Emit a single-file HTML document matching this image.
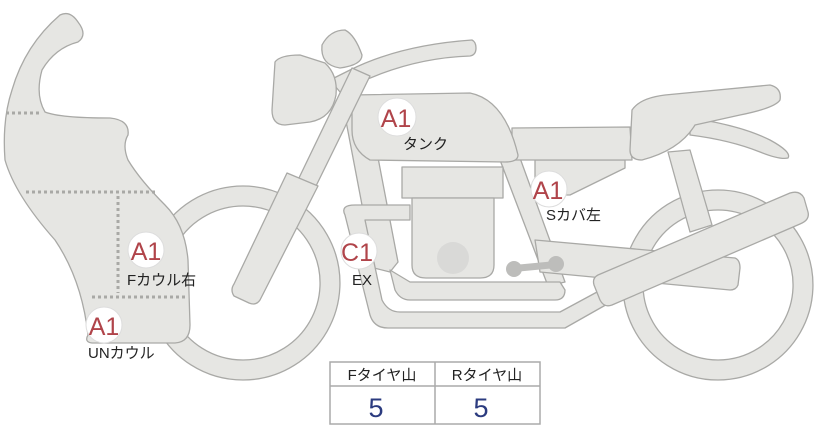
<!DOCTYPE html>
<html><head><meta charset="utf-8"><style>
body{margin:0;background:#fff;width:822px;height:425px;overflow:hidden;font-family:"Liberation Sans","Noto Sans CJK JP",sans-serif}
svg{position:absolute;left:0;top:0}
</style></head><body>
<svg width="822" height="425" viewBox="0 0 822 425">
<g fill="#e6e6e3" stroke="#a9a9a6" stroke-width="1.3" stroke-linejoin="round">
<path fill-rule="evenodd" d="M718,190 a95,95 0 1,1 -0.1,0 Z M718,210 a75,75 0 1,0 0.1,0 Z"/>
<path fill-rule="evenodd" d="M243,186 a97,97 0 1,1 -0.1,0 Z M243,206 a77,77 0 1,0 0.1,0 Z"/>
<path d="M668,152 L690,150 L712,225 L690,232 Z"/>
<path d="M342,100 L366,95 L398,262 L390,272 L374,268 Z"/>
<path d="M500,160 L520,158 L565,282 L548,286 Z"/>
<path d="M345,215 Q340,205 355,205 L410,205 L410,220 L365,220 L382,300 Q388,312 400,312 L560,312 L610,285 L618,298 L565,328 L388,328 Q374,328 370,315 Z"/>
<path d="M390,270 L395,290 Q400,300 410,300 L555,300 Q565,300 565,290 L560,282 L410,282 Z"/>
<path d="M535,240 L735,258 Q740,260 740,268 L738,285 Q736,290 730,290 L540,272 Z"/>
<path d="M535,160 L625,160 L625,168 L570,195 L535,195 Z"/>
<path d="M512,128 L630,127 L632,160 L512,160 Z"/>
<path d="M690,118 Q740,125 770,140 Q792,152 788,158 Q780,160 760,152 Q730,140 690,135 Z"/>
<path d="M632,110 Q640,98 665,95 L770,85 Q782,88 780,100 Q775,108 740,115 L695,125 Q680,150 642,160 Q630,160 630,150 Z"/>
<path d="M352,95 L470,93 Q505,100 518,155 Q518,162 505,162 L370,160 Q352,150 352,130 Z"/>
<path d="M402,167 L503,167 L503,198 L402,198 Z"/>
<path d="M412,198 L494,198 L494,265 Q494,278 480,278 L426,278 Q412,278 412,265 Z"/>
<path d="M598,275 L790,193 Q800,190 804,198 L808,212 Q810,220 800,224 L612,305 Q604,308 600,300 L594,285 Q592,278 598,275 Z"/>
<path d="M330,80 L350,70 Q400,45 472,40 Q476,42 476,48 Q476,55 470,56 Q410,58 355,85 L340,92 Z"/>
<path d="M352,68 L370,76 L316,186 L298,180 Z"/>
<path d="M287,173 L318,186 L260,300 Q256,306 249,303 L234,296 Q230,290 234,284 Z"/>
<path d="M275,62 Q280,55 300,55 L325,63 Q338,75 336,95 Q332,118 310,122 L285,125 Q272,125 272,110 Z"/>
<path d="M322,45 Q330,30 345,30 Q355,35 362,55 Q362,65 340,68 Q320,65 322,45 Z"/>
<path d="M60,15 Q70,10 78,22 Q88,35 78,42 Q55,48 42,70 Q35,95 45,112 Q60,118 110,118 Q130,120 128,135 Q122,145 128,160 Q140,180 165,205 Q185,225 188,260 L190,325 Q190,342 175,343 L92,343 Q84,342 88,335 Q82,280 55,240 Q15,195 5,160 Q2,120 12,90 Q25,45 60,15 Z"/>
</g>
<g stroke="#a9a9a6" stroke-width="3" stroke-dasharray="3,3" fill="none">
<path d="M6,113 H40"/><path d="M26,192 H155"/><path d="M118,196 V293"/><path d="M92,297 H188"/>
</g>
<circle cx="453" cy="258" r="16" fill="#d9d9d7"/>
<g fill="#bdbdbb"><circle cx="514" cy="269" r="8"/><circle cx="556" cy="264" r="8"/><path d="M514,265 L556,261 L556,268 L514,272 Z"/></g>
<g font-size="25" fill="#b0444a" text-anchor="middle">
<circle cx="397" cy="117" r="19" fill="#fff" stroke="#ddd"/><text x="396" y="127">A1</text>
<circle cx="549" cy="189" r="18" fill="#fff" stroke="#ddd"/><text x="548" y="199">A1</text>
<circle cx="146" cy="250" r="18" fill="#fff" stroke="#ddd"/><text x="146" y="260">A1</text>
<circle cx="359" cy="251" r="18" fill="#fff" stroke="#ddd"/><text x="357" y="261">C1</text>
<circle cx="104" cy="325" r="18" fill="#fff" stroke="#ddd"/><text x="104" y="335">A1</text>
</g>
<g font-size="15" fill="#222">
<text x="403" y="149">タンク</text>
<text x="546" y="220">Sカバ左</text>
<text x="127" y="285">Fカウル右</text>
<text x="352" y="285">EX</text>
<text x="88" y="358">UNカウル</text>
</g>
<g fill="none" stroke="#aaa" stroke-width="1.5">
<rect x="330" y="362" width="210" height="62"/>
<path d="M330,386 H540 M435,362 V424"/>
</g>
<g font-size="15" fill="#222" text-anchor="middle"><text x="382" y="380">Fタイヤ山</text><text x="487" y="380">Rタイヤ山</text></g>
<g font-size="27" fill="#2b3b7f" text-anchor="middle"><text x="376" y="417">5</text><text x="481" y="417">5</text></g>
</svg>
</body></html>
